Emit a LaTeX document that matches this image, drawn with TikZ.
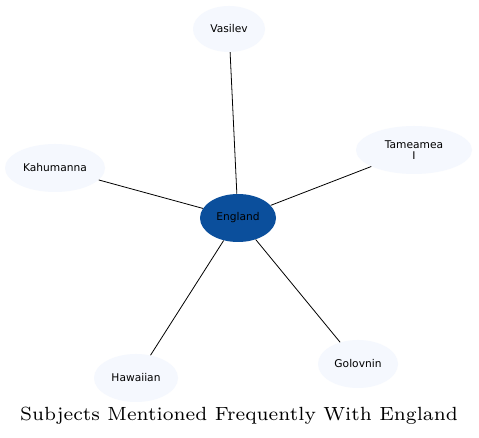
\documentclass[tikz,border=0pt]{standalone}
\usepackage{fontspec}
\newfontfamily\nodefont{DejaVu Sans}
\newfontfamily\titlefont{lmroman7-regular.otf}
\usetikzlibrary{shapes.geometric}
\definecolor{hub}{HTML}{0B4F9C}
\definecolor{leaf}{HTML}{F5F8FE}
\tikzset{
  leafnode/.style={ellipse, fill=leaf, draw=none, inner sep=0pt, font=\nodefont\fontsize{8}{8.5}\selectfont, align=center},
  hubnode/.style={ellipse, fill=hub, draw=none, inner sep=0pt, font=\nodefont\fontsize{8}{8.5}\selectfont},
  link/.style={draw=black, line width=0.6pt}
}
\begin{document}
\begin{tikzpicture}[x=0.75pt, y=-0.75pt]
\useasboundingbox (0,0) rectangle (479,438);
\fill[white] (0,0) rectangle (479,438);
\node[hubnode, minimum width=76*0.75pt, minimum height=48*0.75pt] (e) at (238,218) {England};
\node[leafnode, minimum width=72*0.75pt, minimum height=46*0.75pt] (v) at (229,29) {Vasilev};
\node[leafnode, minimum width=116*0.75pt, minimum height=48*0.75pt] (t) at (414,150) {Tameamea\\I};
\node[leafnode, minimum width=100*0.75pt, minimum height=48*0.75pt] (k) at (55,168) {Kahumanna};
\node[leafnode, minimum width=84*0.75pt, minimum height=48*0.75pt] (h) at (136,378) {Hawaiian};
\node[leafnode, minimum width=80*0.75pt, minimum height=48*0.75pt] (g) at (358,364) {Golovnin};
\draw[link] (e) -- (v);
\draw[link] (e) -- (t);
\draw[link] (e) -- (k);
\draw[link] (e) -- (h);
\draw[link] (e) -- (g);
\node[font=\titlefont\fontsize{14.3}{16}\selectfont, inner sep=0pt] (title) at (239,416) {Subjects Mentioned Frequently With England};
\end{tikzpicture}
\end{document}
